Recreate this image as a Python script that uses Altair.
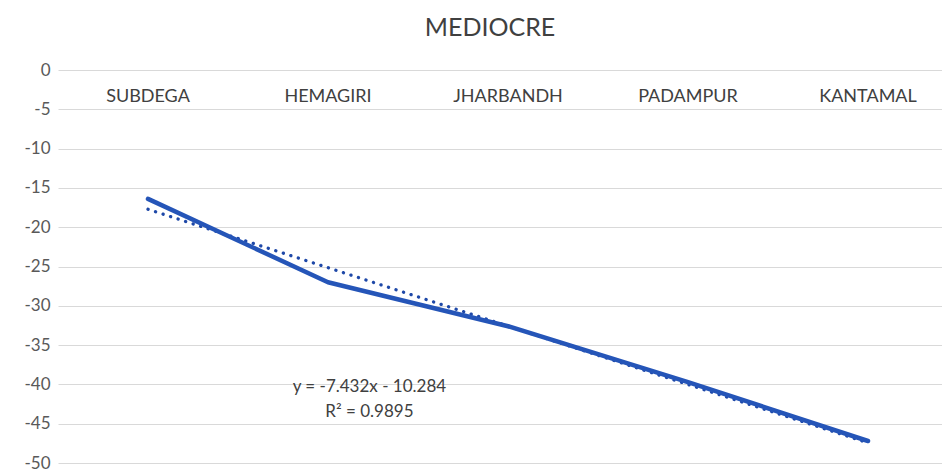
import altair as alt
import pandas as pd

categories = ["SUBDEGA", "HEMAGIRI", "JHARBANDH", "PADAMPUR", "KANTAMAL"]
positions = [1, 2, 3, 4, 5]
values = [-16.4, -27.0, -32.6, -39.7, -47.2]
y_ticks = [0, -5, -10, -15, -20, -25, -30, -35, -40, -45, -50]
label_y = -3.4
equation_lines = ["y = -7.432x - 10.284", "R² = 0.9895"]
equation_x = 2.23
equation_y = [-40.3, -43.5]

FONT = "Lato"
BLUE = "#2555B8"

df = pd.DataFrame({"x": positions, "y": values, "cat": categories})
lab = pd.DataFrame({"x": positions, "y": [label_y] * len(positions), "cat": categories})
eq = pd.DataFrame({"x": [equation_x] * 2, "y": equation_y, "t": equation_lines})

xs = alt.Scale(domain=[0.5, 0.5 + 884 / 180], nice=False, zero=False)
ys = alt.Scale(domain=[-50, 0], nice=False)

y_axis = alt.Axis(values=y_ticks, domain=False, ticks=False, grid=True,
                  gridColor="#d9d9d9", gridWidth=1, labelFont=FONT,
                  labelFontSize=17, labelColor="#595959", labelPadding=8,
                  labelOverlap=False, labelExpr="toString(datum.value)",
                  title=None)

X = alt.X("x:Q", scale=xs, axis=None)
Y = alt.Y("y:Q", scale=ys, axis=y_axis)

line = alt.Chart(df).mark_line(color=BLUE, strokeWidth=4.5, strokeCap="round",
                               strokeJoin="round").encode(x=X, y=Y)

trend = alt.Chart(df).transform_regression("x", "y").mark_line(
    color="#1E48A8", strokeWidth=3.3, strokeDash=[0.1, 7.8], strokeCap="round"
).encode(x=X, y=Y)

labels = alt.Chart(lab).mark_text(font=FONT, fontSize=18, color="#404040",
                                  baseline="middle", align="center").encode(
    x=X, y=Y, text="cat:N"
)

eqtext = alt.Chart(eq).mark_text(font=FONT, fontSize=17, color="#404040",
                                 baseline="middle", align="center").encode(
    x=X, y=Y, text="t:N"
)

chart = alt.layer(trend, line, labels, eqtext).properties(
    width=884, height=393,
    title=alt.TitleParams("MEDIOCRE", font=FONT, fontSize=25, fontWeight="normal",
                          color="#404040", anchor="middle", offset=20, dx=-10),
    autosize=alt.AutoSizeParams(type="none"),
    padding={"left": 50, "top": 62, "right": 0, "bottom": 11},
).configure_view(stroke=None).configure_axis(tickCount=11)

chart.save("out.html", embed_options={"renderer": "svg", "actions": False})
